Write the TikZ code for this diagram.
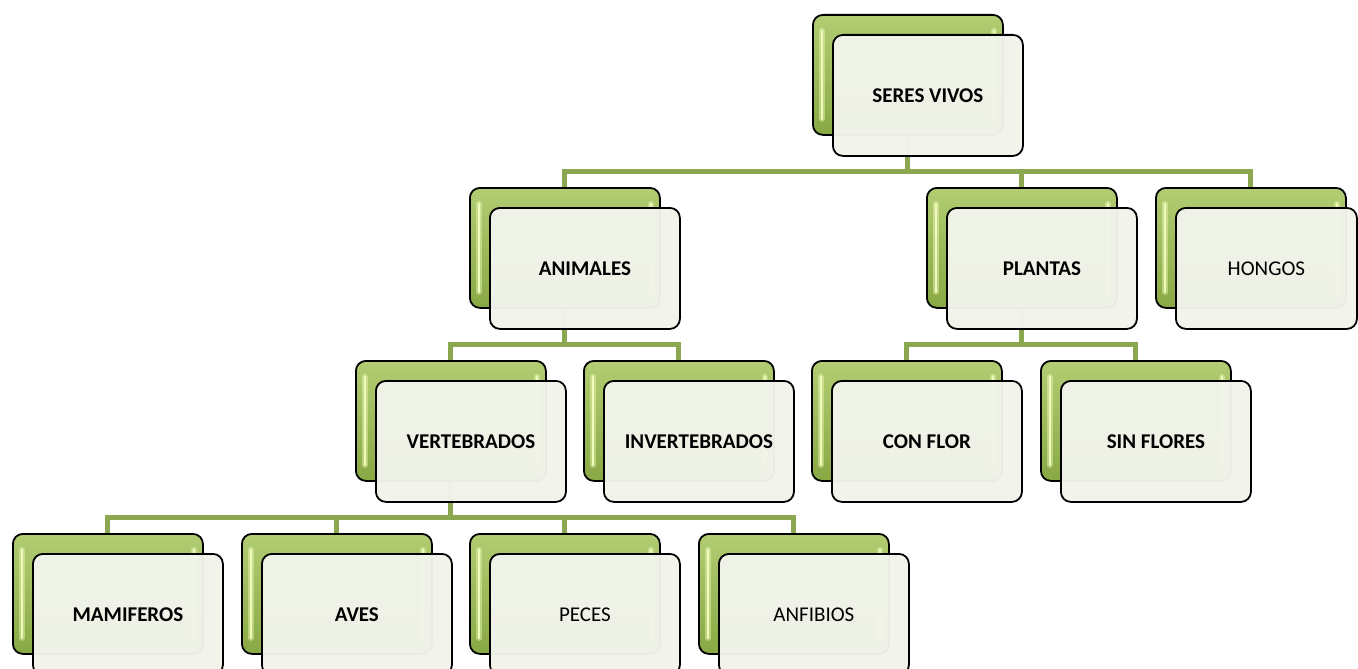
\documentclass[tikz,border=0pt]{standalone}
\usepackage{fontspec}
\setmainfont{Carlito}
\usetikzlibrary{backgrounds}
\definecolor{verdelinea}{RGB}{139,167,79}
\definecolor{verdeclaro}{RGB}{178,205,114}
\definecolor{verdeoscuro}{RGB}{136,168,68}
\definecolor{brillo}{RGB}{238,251,186}
\definecolor{papel}{RGB}{242,244,235}

\begin{document}
\begin{tikzpicture}[x=1pt, y=-1pt,
    fondo/.style={draw=black, line width=1.8pt, rounded corners=10pt,
        minimum width=190pt, minimum height=120pt, anchor=north west,
        top color=verdeclaro, bottom color=verdeoscuro,
        path picture={
            \draw[brillo, line width=6pt, draw opacity=0.45, line cap=round]
                ([xshift=9pt,yshift=-16pt]path picture bounding box.north west) --
                ([xshift=9pt,yshift=16pt]path picture bounding box.south west)
                ([xshift=-9pt,yshift=-16pt]path picture bounding box.north east) --
                ([xshift=-9pt,yshift=16pt]path picture bounding box.south east);
            \draw[brillo, line width=2.5pt, line cap=round]
                ([xshift=9pt,yshift=-16pt]path picture bounding box.north west) --
                ([xshift=9pt,yshift=16pt]path picture bounding box.south west)
                ([xshift=-9pt,yshift=-16pt]path picture bounding box.north east) --
                ([xshift=-9pt,yshift=16pt]path picture bounding box.south east);
        }},
    tarjeta/.style={draw=black, line width=1.8pt, rounded corners=10pt,
        minimum width=190pt, minimum height=121pt, anchor=north west,
        fill=papel, fill opacity=0.97, text opacity=1,
        font=\fontsize{21}{25}\selectfont},
    negrita/.style={tarjeta, font=\fontsize{21}{25}\selectfont\bfseries},
    rama/.style={draw=verdelinea, line width=5pt}]

    \useasboundingbox (0,0) rectangle (1358,669);

    % nivel 0
    \node[fondo] (seres) at (812,14) {};
    \node[negrita] (seres-t) at (832,34) {SERES VIVOS};

    % nivel 1
    \node[fondo] (animales) at (469,187) {};
    \node[negrita] (animales-t) at (489,207) {ANIMALES};
    \node[fondo] (plantas) at (926,187) {};
    \node[negrita] (plantas-t) at (946,207) {PLANTAS};
    \node[fondo] (hongos) at (1155,187) {};
    \node[tarjeta, minimum width=181pt] (hongos-t) at (1175,207) {HONGOS};

    % nivel 2
    \node[fondo] (vertebrados) at (355,360) {};
    \node[negrita] (vertebrados-t) at (375,380) {VERTEBRADOS};
    \node[fondo] (invertebrados) at (583,360) {};
    \node[negrita] (invertebrados-t) at (603,380) {INVERTEBRADOS};
    \node[fondo] (conflor) at (811,360) {};
    \node[negrita] (conflor-t) at (831,380) {CON FLOR};
    \node[fondo] (sinflores) at (1040,360) {};
    \node[negrita] (sinflores-t) at (1060,380) {SIN FLORES};

    % nivel 3
    \node[fondo] (mamiferos) at (12,533) {};
    \node[negrita] (mamiferos-t) at (32,553) {MAMIFEROS};
    \node[fondo] (aves) at (241,533) {};
    \node[negrita] (aves-t) at (261,553) {AVES};
    \node[fondo] (peces) at (469,533) {};
    \node[tarjeta] (peces-t) at (489,553) {PECES};
    \node[fondo] (anfibios) at (698,533) {};
    \node[tarjeta] (anfibios-t) at (718,553) {ANFIBIOS};

    % ramas
    \begin{scope}[on background layer]
        \foreach \hijo in {animales,plantas,hongos}
            \draw[rama] (\hijo.north) -- ++(0,-16) -| (seres.south);
        \foreach \hijo in {vertebrados,invertebrados}
            \draw[rama] (\hijo.north) -- ++(0,-16) -| (animales.south);
        \foreach \hijo in {conflor,sinflores}
            \draw[rama] (\hijo.north) -- ++(0,-16) -| (plantas.south);
        \foreach \hijo in {mamiferos,aves,peces,anfibios}
            \draw[rama] (\hijo.north) -- ++(0,-16) -| (vertebrados.south);
    \end{scope}
\end{tikzpicture}
\end{document}
